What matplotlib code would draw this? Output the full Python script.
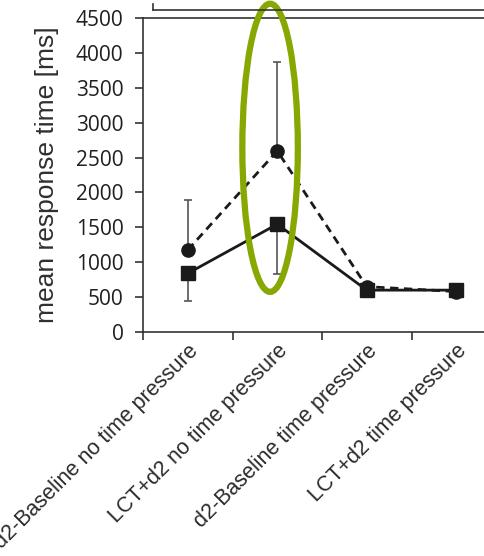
import matplotlib
matplotlib.use("Agg")
import matplotlib.pyplot as plt
import matplotlib.transforms as mtransforms
import numpy as np
from matplotlib.patches import Ellipse
from matplotlib.lines import Line2D

conditions = ["d2-Baseline no time pressure", "LCT+d2 no time pressure",
              "d2-Baseline time pressure", "LCT+d2 time pressure"]
circle_mean = [1175, 2595, 650, 580]
circle_err_up = [715, 1275, 0, 0]
square_mean = [840, 1545, 600, 600]
square_err_down = [390, 715, 0, 0]
y_ticks = [0, 500, 1000, 1500, 2000, 2500, 3000, 3500, 4000, 4500]

plt.rcParams['font.family'] = ['Liberation Sans', 'DejaVu Sans']

fig = plt.figure(figsize=(4.85, 5.56), dpi=100)
ax = fig.add_axes([143 / 485, 1 - 332 / 556, 358 / 485, 314 / 556])

x = np.arange(len(conditions)) + 0.5

# error bars (one-sided)
ax.errorbar(x, circle_mean, yerr=[np.zeros(4), circle_err_up], fmt='none',
            ecolor='#555555', elinewidth=1.2, capsize=3, capthick=1.2, zorder=2)
ax.errorbar(x, square_mean, yerr=[square_err_down, np.zeros(4)], fmt='none',
            ecolor='#555555', elinewidth=1.2, capsize=3, capthick=1.2, zorder=2)

ax.plot(x, circle_mean, linestyle=(0, (3, 2)), color='#1a1a1a', linewidth=2,
        marker='o', markersize=9.5, zorder=3)
ax.plot(x, square_mean, linestyle='-', color='#1a1a1a', linewidth=2,
        marker='s', markersize=9.5, zorder=4)

# highlight ellipse around second condition
ell = Ellipse((1.42, 2640), width=0.62, height=4130, fill=False,
              edgecolor='#86a800', linewidth=4.5, clip_on=False, zorder=5)
ax.add_patch(ell)

ax.set_xlim(0, 4)
ax.set_ylim(0, 4500)
ax.set_yticks(y_ticks)
ax.set_yticklabels([str(v) for v in y_ticks], family='Open Sans')
ax.set_xticks([0, 1, 2, 3, 4])
ax.set_xticklabels([])
ax.set_xticks(x, minor=True)
ax.set_xticklabels(conditions, minor=True, rotation=45, ha='right',
                   rotation_mode='anchor', fontsize=15.5, color='#2a2a2a')
shift = mtransforms.ScaledTranslation(14 / 100, 0, fig.dpi_scale_trans)
for lbl in ax.get_xticklabels(minor=True):
    lbl.set_transform(lbl.get_transform() + shift)
ax.tick_params(axis='x', which='minor', length=0, pad=6)
ax.tick_params(axis='x', which='major', length=6, width=1.2, color='#333333')
ax.tick_params(axis='y', length=6, width=1.2, labelsize=15,
               labelcolor='#1f1f1f', color='#333333', pad=8)
for s in ax.spines.values():
    s.set_linewidth(1.2)
    s.set_color('#333333')

ax.set_ylabel("mean response time [ms]", fontsize=19, color='#2f2f2f', labelpad=12)

# bracket line above the axes
fig.add_artist(Line2D([153 / 485, 1.0], [1 - 10 / 556, 1 - 10 / 556],
                      color='#333333', linewidth=1.2))
fig.add_artist(Line2D([153 / 485, 153 / 485], [1 - 10 / 556, 1 - 4 / 556],
                      color='#333333', linewidth=1.2))

fig.savefig("out.png", dpi=100)
